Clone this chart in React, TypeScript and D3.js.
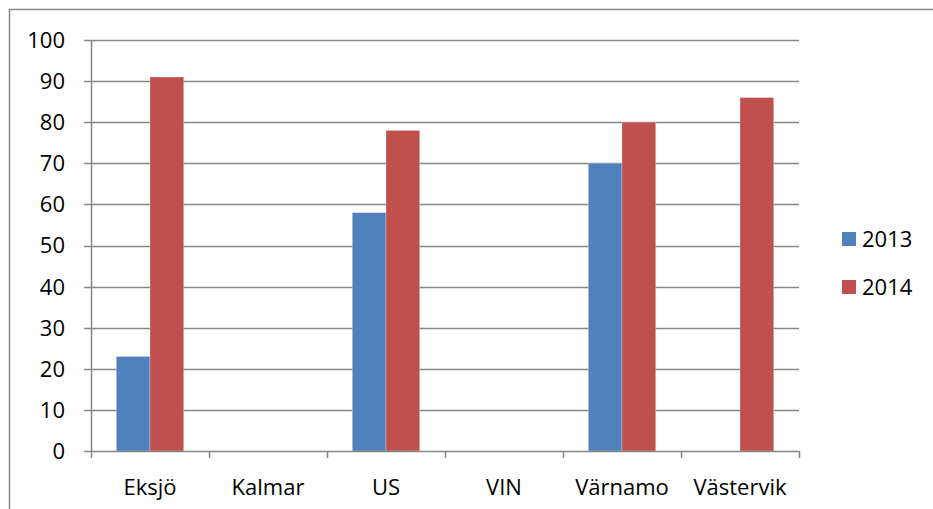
import React from "react";
import * as d3 from "d3";

const categories = ["Eksjö", "Kalmar", "US", "VIN", "Värnamo", "Västervik"];
const seriesNames = ["2013", "2014"];
const values2013: (number | null)[] = [23, null, 58, null, 70, null];
const values2014: (number | null)[] = [91, null, 78, null, 80, 86];
const yTicks = [0, 10, 20, 30, 40, 50, 60, 70, 80, 90, 100];
const colors = ["#4F81BD", "#C0504D"];

export default function App() {
  const W = 933, H = 509;
  const left = 91, right = 799, top = 40, bottom = 451;
  const font = "'Open Sans', sans-serif";
  const fs = 22;
  const x = d3.scaleBand<string>().domain(categories).range([left, right]).paddingInner(0).paddingOuter(0);
  const y = d3.scaleLinear().domain([0, 100]).range([bottom, top]);
  const inner = d3.scaleBand<string>().domain(seriesNames).range([0, x.bandwidth()]).paddingInner(0).paddingOuter(0.75);
  const series = [values2013, values2014];
  const grid = "#868686";
  const boundaries = d3.range(categories.length + 1).map((i) => left + i * x.step());

  return (
    <svg width={W} height={H} style={{ position: "absolute", left: 0, top: 0, background: "#fff" }}>
      <rect x={9.5} y={9.5} width={W + 10} height={H + 10} fill="#fff" stroke={grid} strokeWidth={1.5} />
      {yTicks.map((t) => (
        <g key={t}>
          <line x1={left - 7} x2={t === 0 ? left : right} y1={Math.round(y(t)) + 0.5} y2={Math.round(y(t)) + 0.5} stroke={grid} strokeWidth={1.5} />
          <text x={65} y={y(t)} dy="0.36em" textAnchor="end" fontFamily={font} fontSize={fs} fill="#000">{t}</text>
        </g>
      ))}
      {series.map((vals, si) =>
        categories.map((c, ci) => {
          const v = vals[ci];
          if (v == null) return null;
          const bx = (x(c) as number) + (inner(seriesNames[si]) as number);
          return (
            <rect key={si + "-" + ci} x={bx} y={y(v)} width={inner.bandwidth()} height={y(0) - y(v)} fill={colors[si]} stroke="#ffffff" strokeOpacity={0.35} strokeWidth={0.8} />
          );
        })
      )}
      <line x1={left + 0.5} x2={left + 0.5} y1={top} y2={bottom} stroke={grid} strokeWidth={1.5} />
      <line x1={left} x2={right} y1={bottom + 0.5} y2={bottom + 0.5} stroke={grid} strokeWidth={1.5} />
      {boundaries.map((bx, i) => (
        <line key={i} x1={bx + 0.5} x2={bx + 0.5} y1={bottom} y2={bottom + 7} stroke={grid} strokeWidth={1.5} />
      ))}
      {categories.map((c) => (
        <text key={c} x={(x(c) as number) + x.bandwidth() / 2} y={495} textAnchor="middle" fontFamily={font} fontSize={fs} fill="#000">{c}</text>
      ))}
      {seriesNames.map((s, i) => (
        <g key={s}>
          <rect x={842} y={232 + i * 48} width={14} height={14} fill={colors[i]} />
          <text x={862} y={239 + i * 48} dy="0.36em" fontFamily={font} fontSize={fs} fill="#000">{s}</text>
        </g>
      ))}
    </svg>
  );
}
